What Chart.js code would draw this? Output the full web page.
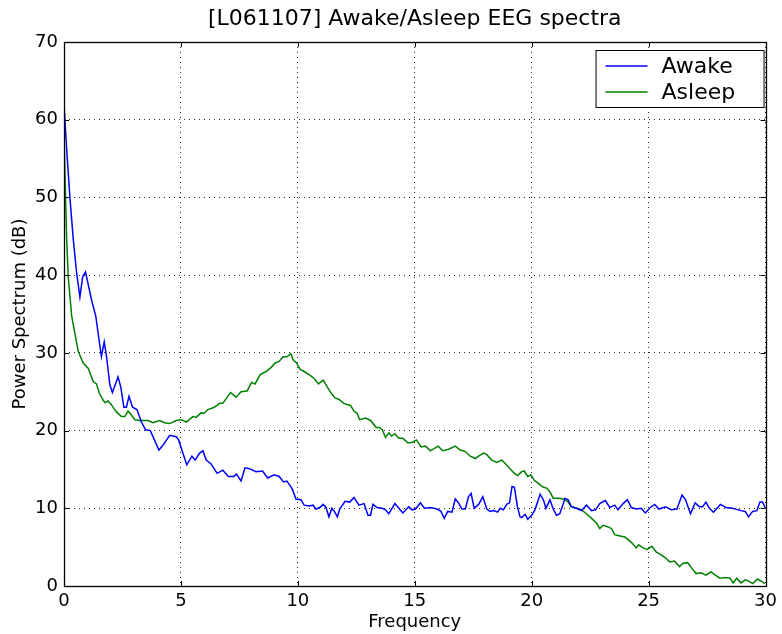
<!DOCTYPE html>
<html lang="en">
<head>
    <meta charset="UTF-8">
    <title>[L061107] Awake/Asleep EEG spectra</title>
    <script src="https://cdn.jsdelivr.net/npm/chart.js"></script>
    <style>
        body {
            margin: 0;
            background: #ffffff;
        }

        canvas {
            display: block;
        }
    </style>
</head>
<body>
    <canvas id="spectra" width="782" height="634"></canvas>

    <script>
        // values (frequency in Hz, power in dB)
        const awakeFreq = [0, 0.13, 0.26, 0.4, 0.54, 0.68, 0.8, 0.92, 1.18, 1.36, 1.6, 1.72, 1.82, 1.96, 2.07, 2.31, 2.43, 2.56, 2.67, 2.78, 2.93, 3.12, 3.31, 3.49, 3.69, 4.06, 4.23, 4.52, 4.8, 4.9, 5.04, 5.25, 5.47, 5.61, 5.8, 5.94, 6.08, 6.29, 6.55, 6.79, 7.03, 7.26, 7.38, 7.57, 7.74, 7.93, 8.21, 8.49, 8.71, 8.99, 9.2, 9.39, 9.53, 9.7, 9.77, 9.92, 10.13, 10.27, 10.48, 10.65, 10.77, 10.94, 11.08, 11.2, 11.33, 11.45, 11.56, 11.69, 11.79, 12.02, 12.22, 12.4, 12.61, 12.83, 13.0, 13.11, 13.21, 13.39, 13.61, 13.75, 13.89, 14.15, 14.32, 14.49, 14.74, 14.88, 15.03, 15.24, 15.41, 15.67, 15.95, 16.12, 16.26, 16.41, 16.59, 16.73, 16.87, 17.02, 17.16, 17.3, 17.41, 17.54, 17.73, 17.91, 18.08, 18.22, 18.39, 18.54, 18.65, 18.79, 18.93, 19.05, 19.16, 19.26, 19.39, 19.5, 19.57, 19.72, 19.83, 20.0, 20.14, 20.36, 20.5, 20.61, 20.78, 20.92, 21.06, 21.2, 21.35, 21.42, 21.56, 21.7, 21.92, 22.13, 22.34, 22.56, 22.73, 22.91, 23.15, 23.34, 23.55, 23.69, 23.91, 24.09, 24.26, 24.47, 24.68, 24.86, 25.07, 25.26, 25.44, 25.73, 25.97, 26.21, 26.43, 26.58, 26.79, 26.99, 27.17, 27.31, 27.45, 27.6, 27.77, 28.07, 28.31, 28.59, 28.95, 29.13, 29.27, 29.45, 29.63, 29.76, 29.87, 30.0];
        const awakePower = [62.0, 55.5, 49.7, 44.5, 40.3, 37.2, 39.8, 40.4, 36.8, 34.7, 29.5, 31.4, 29.5, 25.9, 24.9, 26.9, 25.6, 23.0, 23.0, 24.4, 23.0, 22.7, 21.1, 20.1, 20.0, 17.5, 18.1, 19.4, 19.2, 18.8, 17.5, 15.6, 16.7, 16.2, 17.1, 17.4, 16.2, 15.7, 14.5, 14.9, 14.1, 14.1, 14.4, 13.5, 15.2, 15.1, 14.7, 14.8, 13.9, 14.3, 14.1, 13.4, 13.5, 12.8, 12.4, 11.2, 11.1, 10.4, 10.3, 10.4, 9.9, 10.1, 10.5, 10.1, 8.9, 10.0, 9.6, 8.9, 9.9, 10.9, 10.8, 11.4, 10.4, 10.6, 9.1, 9.1, 10.5, 10.1, 10.0, 9.8, 9.3, 10.6, 10.0, 9.4, 10.2, 9.8, 9.9, 10.7, 10.0, 10.1, 9.9, 9.6, 8.7, 9.6, 9.5, 11.2, 10.7, 9.9, 9.9, 11.5, 11.9, 10.0, 10.5, 11.5, 9.9, 9.6, 9.7, 9.5, 10.0, 9.8, 10.5, 10.7, 12.8, 12.7, 10.2, 8.9, 8.8, 9.2, 8.6, 9.1, 9.8, 11.8, 11.1, 10.0, 11.1, 9.9, 9.1, 9.3, 10.6, 11.3, 11.1, 10.2, 10.0, 9.7, 10.4, 9.7, 9.8, 10.6, 11.0, 10.1, 10.4, 9.8, 10.6, 11.1, 10.1, 9.9, 10.0, 9.4, 10.1, 10.5, 9.9, 10.2, 9.8, 9.9, 11.7, 11.1, 9.3, 10.7, 10.2, 10.2, 10.8, 10.0, 9.5, 10.5, 10.1, 10.0, 9.7, 9.6, 8.9, 9.6, 9.7, 10.8, 10.8, 10.0];

        const asleepFreq = [0, 0.05, 0.11, 0.18, 0.33, 0.61, 0.82, 1.04, 1.25, 1.39, 1.51, 1.68, 1.75, 1.89, 2.03, 2.24, 2.46, 2.6, 2.74, 2.88, 3.03, 3.24, 3.59, 3.81, 4.09, 4.3, 4.52, 4.8, 5.01, 5.23, 5.51, 5.65, 5.87, 5.98, 6.15, 6.43, 6.65, 6.79, 7.12, 7.36, 7.57, 7.83, 8.02, 8.17, 8.39, 8.64, 8.85, 9.03, 9.2, 9.37, 9.53, 9.7, 9.8, 9.94, 10.09, 10.27, 10.48, 10.7, 10.88, 11.09, 11.26, 11.45, 11.59, 11.76, 11.97, 12.26, 12.4, 12.54, 12.64, 12.9, 13.11, 13.35, 13.49, 13.61, 13.75, 13.89, 14.01, 14.15, 14.32, 14.49, 14.71, 14.91, 15.07, 15.27, 15.46, 15.67, 15.84, 16.0, 16.2, 16.45, 16.73, 16.95, 17.16, 17.37, 17.59, 17.73, 17.94, 18.08, 18.29, 18.51, 18.72, 18.86, 19.07, 19.26, 19.4, 19.57, 19.68, 19.83, 19.97, 20.11, 20.28, 20.5, 20.64, 20.78, 20.92, 21.13, 21.35, 21.53, 21.7, 21.92, 22.13, 22.34, 22.56, 22.77, 22.91, 23.05, 23.27, 23.41, 23.55, 23.69, 23.98, 24.19, 24.33, 24.47, 24.57, 24.76, 24.94, 25.14, 25.32, 25.54, 25.73, 25.9, 26.11, 26.32, 26.46, 26.67, 26.82, 27.03, 27.24, 27.45, 27.67, 27.85, 28.05, 28.28, 28.48, 28.62, 28.76, 28.95, 29.13, 29.3, 29.45, 29.66, 29.83, 29.98];
        const asleepPower = [58.5, 52.0, 45.0, 39.8, 34.7, 30.2, 28.7, 28.0, 26.3, 26.0, 24.8, 23.9, 23.6, 23.8, 23.3, 22.4, 21.8, 21.8, 22.5, 22.0, 21.4, 21.3, 21.3, 21.0, 21.3, 21.0, 20.9, 21.3, 21.4, 21.1, 21.8, 21.7, 22.3, 22.2, 22.7, 23.0, 23.5, 23.5, 24.9, 24.3, 25.0, 25.1, 26.2, 26.0, 27.2, 27.6, 28.1, 28.7, 28.9, 29.5, 29.5, 29.9, 29.1, 28.7, 27.9, 27.6, 27.2, 26.7, 26.0, 26.5, 25.6, 24.7, 24.2, 24.0, 23.5, 23.2, 22.5, 22.2, 21.4, 21.6, 21.3, 20.4, 20.4, 20.1, 19.1, 19.7, 19.3, 19.6, 19.0, 19.0, 18.4, 18.5, 18.8, 17.9, 18.0, 17.4, 17.7, 18.0, 17.4, 17.6, 18.0, 17.5, 17.3, 16.7, 16.4, 16.7, 17.1, 16.9, 16.2, 15.9, 16.2, 15.8, 15.1, 14.5, 14.2, 14.7, 14.8, 14.1, 14.3, 13.6, 13.2, 12.7, 12.6, 12.1, 11.3, 11.3, 11.2, 10.9, 10.2, 10.0, 9.8, 9.3, 8.7, 8.1, 7.4, 7.8, 7.6, 7.4, 6.6, 6.5, 6.3, 5.8, 5.4, 4.9, 5.3, 4.9, 4.7, 5.1, 4.4, 4.0, 3.6, 3.1, 3.2, 2.5, 2.9, 3.0, 2.4, 1.6, 1.7, 1.4, 1.8, 1.4, 1.0, 1.1, 1.0, 0.4, 1.0, 0.4, 0.8, 0.6, 0.3, 0.9, 0.6, 0.3];

        const xTicks = [0, 5, 10, 15, 20, 25, 30];
        const yTicks = [0, 10, 20, 30, 40, 50, 60, 70];

        const FONT = "'DejaVu Sans', 'Liberation Sans', sans-serif";

        // matplotlib-like frame, inward ticks and boxed legend
        const framePlugin = {
            id: "frame",
            afterDatasetsDraw(chart) {
                const ctx = chart.ctx;
                const a = chart.chartArea;
                const xs = chart.scales.x;
                const ys = chart.scales.y;
                const len = 5;
                ctx.save();
                ctx.strokeStyle = "#000";
                ctx.lineWidth = 1;
                ctx.beginPath();
                xTicks.forEach(v => {
                    const px = Math.round(xs.getPixelForValue(v)) + 0.5;
                    ctx.moveTo(px, a.bottom); ctx.lineTo(px, a.bottom - len);
                    ctx.moveTo(px, a.top); ctx.lineTo(px, a.top + len);
                });
                yTicks.forEach(v => {
                    const py = Math.round(ys.getPixelForValue(v)) + 0.5;
                    ctx.moveTo(a.left, py); ctx.lineTo(a.left + len, py);
                    ctx.moveTo(a.right, py); ctx.lineTo(a.right - len, py);
                });
                ctx.stroke();
                ctx.lineWidth = 1.3;
                ctx.strokeRect(Math.round(a.left) + 0.5, Math.round(a.top) + 0.5,
                    Math.round(a.right - a.left), Math.round(a.bottom - a.top));

                // legend box
                const bx = a.right - 170, by = a.top + 8, bw = 168, bh = 57;
                ctx.fillStyle = "#fff";
                ctx.fillRect(bx, by, bw, bh);
                ctx.lineWidth = 1;
                ctx.strokeRect(bx + 0.5, by + 0.5, bw, bh);
                ctx.font = "22px " + FONT;
                ctx.textBaseline = "middle";
                chart.data.datasets.forEach((ds, i) => {
                    const ly = by + 16 + i * 26;
                    ctx.strokeStyle = ds.borderColor;
                    ctx.lineWidth = 1.5;
                    ctx.beginPath();
                    ctx.moveTo(bx + 10, ly);
                    ctx.lineTo(bx + 52, ly);
                    ctx.stroke();
                    ctx.fillStyle = "#000";
                    ctx.fillText(ds.label, bx + 66, ly + 1);
                });
                ctx.restore();
            }
        };

        new Chart(document.getElementById("spectra"), {
            type: "line",
            data: {
                datasets: [{
                    label: "Awake",
                    data: awakeFreq.map((f, i) => ({ x: f, y: awakePower[i] })),
                    borderColor: "#0000ff",
                    borderWidth: 1.5,
                    pointRadius: 0,
                    tension: 0
                }, {
                    label: "Asleep",
                    data: asleepFreq.map((f, i) => ({ x: f, y: asleepPower[i] })),
                    borderColor: "#008000",
                    borderWidth: 1.5,
                    pointRadius: 0,
                    tension: 0
                }]
            },
            options: {
                responsive: false,
                animation: false,
                layout: {
                    padding: { left: 0, right: 14, top: 0, bottom: 0 }
                },
                plugins: {
                    legend: { display: false },
                    tooltip: { enabled: false },
                    title: {
                        display: true,
                        text: "[L061107] Awake/Asleep EEG spectra",
                        color: "#000",
                        fullSize: false,
                        font: { family: FONT, size: 22, weight: "normal", lineHeight: 1.2 },
                        padding: { top: 6, bottom: 9.6 }
                    }
                },
                scales: {
                    x: {
                        type: "linear",
                        min: 0,
                        max: 30,
                        afterBuildTicks: s => { s.ticks = xTicks.map(v => ({ value: v })); },
                        afterFit: s => { s.height = 48; },
                        grid: { color: "rgba(0,0,0,0.85)", lineWidth: 1, drawTicks: false },
                        border: { display: false, dash: [1, 4] },
                        ticks: {
                            color: "#000",
                            padding: 5,
                            maxRotation: 0,
                            font: { family: FONT, size: 18 }
                        },
                        title: {
                            display: true,
                            text: "Frequency",
                            color: "#000",
                            font: { family: FONT, size: 18 },
                            padding: { top: 0, bottom: 1 }
                        }
                    },
                    y: {
                        min: 0,
                        max: 70,
                        afterBuildTicks: s => { s.ticks = yTicks.map(v => ({ value: v })); },
                        afterFit: s => { s.width = 64; },
                        grid: { color: "rgba(0,0,0,0.85)", lineWidth: 1, drawTicks: false },
                        border: { display: false, dash: [1, 4] },
                        ticks: {
                            color: "#000",
                            padding: 6,
                            font: { family: FONT, size: 18 }
                        },
                        title: {
                            display: true,
                            text: "Power Spectrum (dB)",
                            color: "#000",
                            font: { family: FONT, size: 18 },
                            padding: { top: 10, bottom: 0 }
                        }
                    }
                }
            },
            plugins: [framePlugin]
        });
    </script>
</body>
</html>
